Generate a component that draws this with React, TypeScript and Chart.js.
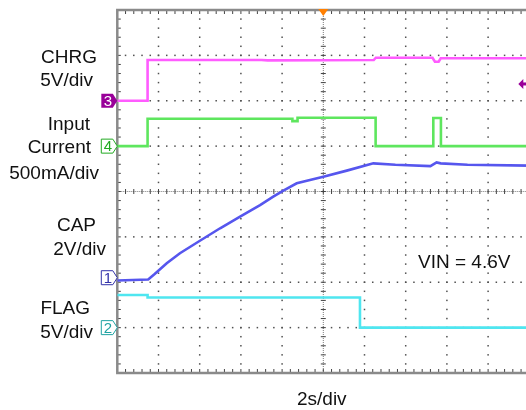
import React, { useEffect, useRef } from "react";
import { Chart, registerables } from "chart.js";

Chart.register(...registerables);

// ---- scope setup ----
const TIME_PER_DIV = 2; // s/div
const H_DIVS = 10;
const V_DIVS = 8;

// ---- channel settings ----
const channelNames = ["CHRG", "Input Current", "CAP", "FLAG"];
const channelNumbers = ["3", "4", "1", "2"];
const channelScales = [5, 500, 2, 5]; // units per division
const channelGrounds = [6, 5, 2, 1]; // ground level in divisions from bottom
const channelMarkerLevels = [6, 5, 2.1, 1];
const channelColors = ["#ff5cff", "#5ee65e", "#5656ee", "#4fe6f0"];
const markerColors = ["#990099", "#22aa22", "#3333aa", "#1fa3a3"];
const markerFilled = [true, false, false, false];

// ---- traces (time in s, values in channel units) ----
const chrgTime = [0, 1.47, 1.47, 7.0, 7.3, 12.45, 12.55, 15.3, 15.42, 15.6, 15.7, 20];
const chrgVolts = [0, 0, 4.49, 4.49, 4.45, 4.49, 4.74, 4.74, 4.3, 4.3, 4.68, 4.68];

const currTime = [0, 1.47, 1.47, 8.5, 8.5, 8.75, 8.75, 12.54, 12.54, 15.34, 15.34, 15.71, 15.71, 20];
const currMilliamps = [0, 0, 302, 302, 275, 275, 313, 313, 0, 0, 310, 310, 0, 0];

const capTime = [0, 1.5, 1.8, 2.4, 3.04, 4.01, 4.99, 5.96, 6.93, 7.57, 8.06, 8.71, 10.0, 11.14, 12.43, 13.5, 15.2, 15.5, 15.7, 17, 20];
const capVolts = [0.08, 0.12, 0.35, 0.84, 1.28, 1.83, 2.38, 2.89, 3.4, 3.77, 4.04, 4.36, 4.65, 4.92, 5.24, 5.18, 5.12, 5.28, 5.24, 5.18, 5.14];

const flagTime = [0, 1.47, 1.47, 11.78, 11.78, 20];
const flagVolts = [3.59, 3.59, 3.32, 3.32, 0, 0];

const traceTimes = [chrgTime, currTime, capTime, flagTime];
const traceValues = [chrgVolts, currMilliamps, capVolts, flagVolts];

// ---- trigger ----
const triggerTime = 10; // s
const triggerLevelCh3 = 1.85; // V

// ---- texts ----
const leftLabels = ["CHRG", "5V/div", "Input", "Current", "500mA/div", "CAP", "2V/div", "FLAG", "5V/div"];
const noteText = "VIN = 4.6V";
const timebaseText = "2s/div";

const FONT = '19px "Liberation Sans", Arial, Helvetica, sans-serif';

const scopePlugin = {
  id: "scopeDecor",
  beforeDatasetsDraw(chart: any) {
    const { ctx, chartArea, scales } = chart;
    const { left, right, top, bottom } = chartArea;
    const xs = scales.x;
    const ys = scales.y;
    ctx.save();
    // dotted graticule
    ctx.fillStyle = "#505050";
    for (let i = 1; i < H_DIVS; i++) {
      if (i === H_DIVS / 2) continue;
      const px = xs.getPixelForValue(i * TIME_PER_DIV);
      for (let k = 0; k <= V_DIVS * 5; k++) {
        const py = ys.getPixelForValue(k / 5);
        ctx.fillRect(px - 0.75, py - 0.75, 1.5, 1.5);
      }
    }
    for (let j = 1; j < V_DIVS; j++) {
      if (j === V_DIVS / 2) continue;
      const py = ys.getPixelForValue(j);
      for (let k = 0; k <= H_DIVS * 5; k++) {
        const px = xs.getPixelForValue((k / 5) * TIME_PER_DIV);
        ctx.fillRect(px - 0.75, py - 0.75, 1.5, 1.5);
      }
    }
    // center cross lines
    const cx = xs.getPixelForValue((H_DIVS / 2) * TIME_PER_DIV);
    const cy = ys.getPixelForValue(V_DIVS / 2);
    ctx.fillStyle = "#7a7a7a";
    for (let py = top; py <= bottom; py += 2) ctx.fillRect(cx - 0.5, py, 1, 1);
    for (let px = left; px <= right; px += 2) ctx.fillRect(px, cy - 0.5, 1, 1);
    ctx.fillStyle = "#444444";
    for (let k = 0; k <= V_DIVS * 5; k++) {
      const py = ys.getPixelForValue(k / 5);
      ctx.fillRect(cx - 2.5, py - 0.5, 5, 1);
      ctx.fillRect(left, py - 0.5, 3.5, 1);
    }
    for (let k = 0; k <= H_DIVS * 5; k++) {
      const px = xs.getPixelForValue((k / 5) * TIME_PER_DIV);
      ctx.fillRect(px - 0.5, cy - 2.5, 1, 5);
      ctx.fillRect(px - 0.5, top, 1, 4);
      ctx.fillRect(px - 0.5, bottom - 4, 1, 4);
    }
    // border
    ctx.strokeStyle = "#8a8a8a";
    ctx.lineWidth = 2.5;
    ctx.strokeRect(left, top, right - left, bottom - top);
    ctx.restore();
  },
  afterDatasetsDraw(chart: any) {
    const { ctx, chartArea, scales } = chart;
    const { left, right, top } = chartArea;
    const xs = scales.x;
    const ys = scales.y;
    ctx.save();
    // channel ground markers
    for (let c = 0; c < channelNumbers.length; c++) {
      const cyp = ys.getPixelForValue(channelMarkerLevels[c]);
      const tip = left;
      ctx.beginPath();
      ctx.moveTo(tip - 16, cyp - 7);
      ctx.lineTo(tip - 4.5, cyp - 7);
      ctx.lineTo(tip, cyp);
      ctx.lineTo(tip - 4.5, cyp + 7);
      ctx.lineTo(tip - 16, cyp + 7);
      ctx.closePath();
      if (markerFilled[c]) {
        ctx.fillStyle = markerColors[c];
        ctx.fill();
      } else {
        ctx.fillStyle = "#ffffff";
        ctx.fill();
        ctx.strokeStyle = markerColors[c];
        ctx.lineWidth = 1;
        ctx.stroke();
      }
      ctx.fillStyle = markerFilled[c] ? "#ffffff" : markerColors[c];
      ctx.font = '15px "Liberation Sans", Arial, sans-serif';
      ctx.textAlign = "center";
      ctx.textBaseline = "middle";
      ctx.fillText(channelNumbers[c], tip - 9.5, cyp + 1);
    }
    // trigger position marker
    const tx = xs.getPixelForValue(triggerTime);
    ctx.fillStyle = "#ff7f00";
    ctx.beginPath();
    ctx.moveTo(tx - 5, top - 1);
    ctx.lineTo(tx + 5, top - 1);
    ctx.lineTo(tx, top + 6);
    ctx.closePath();
    ctx.fill();
    // trigger level marker (CH3)
    const ly = ys.getPixelForValue(channelGrounds[0] + triggerLevelCh3 / channelScales[0]);
    ctx.fillStyle = markerColors[0];
    ctx.beginPath();
    ctx.moveTo(right - 11, ly);
    ctx.lineTo(right - 6, ly - 5);
    ctx.lineTo(right - 6, ly + 5);
    ctx.closePath();
    ctx.fill();
    ctx.fillRect(right - 6.5, ly - 1.5, 7, 3);

    // texts
    ctx.fillStyle = "#111111";
    ctx.font = FONT;
    ctx.textBaseline = "alphabetic";
    ctx.textAlign = "right";
    const rightEdges = [97, 93, 90, 91, 99, 96, 106, 90, 93];
    const baselines = [63, 86, 129.5, 152.5, 179, 231, 254.5, 314.3, 337.7];
    leftLabels.forEach((t, i) => ctx.fillText(t, rightEdges[i], baselines[i]));
    ctx.textAlign = "left";
    ctx.fillText(noteText, 418, 267.7);
    ctx.textAlign = "center";
    ctx.fillText(timebaseText, xs.getPixelForValue(triggerTime) - 1.5, 405);
    ctx.restore();
  },
};

export default function App() {
  const ref = useRef<HTMLCanvasElement | null>(null);
  useEffect(() => {
    const canvas = ref.current;
    if (!canvas) return;
    const datasets = traceTimes.map((times, c) => ({
      label: channelNames[c],
      data: times.map((t, i) => ({
        x: t,
        y: channelGrounds[c] + traceValues[c][i] / channelScales[c],
      })),
      borderColor: channelColors[c],
      borderWidth: 2.6,
      pointRadius: 0,
      tension: 0,
      fill: false,
    }));
    const chart = new Chart(canvas, {
      type: "line",
      data: { datasets },
      options: {
        animation: false,
        responsive: false,
        devicePixelRatio: 1,
        layout: { padding: { left: 117.3, right: 2.7, top: 10, bottom: 37 } },
        plugins: { legend: { display: false }, tooltip: { enabled: false } },
        scales: {
          x: { type: "linear", min: 0, max: H_DIVS * TIME_PER_DIV, display: false },
          y: { type: "linear", min: 0, max: V_DIVS, display: false },
        },
      },
      plugins: [scopePlugin],
    } as any);
    return () => chart.destroy();
  }, []);
  return (
    <div
      style={{
        position: "absolute",
        left: 0,
        top: 0,
        width: 526,
        height: 410,
        overflow: "hidden",
        background: "#ffffff",
      }}
    >
      <canvas ref={ref} width={532} height={410} style={{ display: "block", width: 532, height: 410 }} />
    </div>
  );
}
